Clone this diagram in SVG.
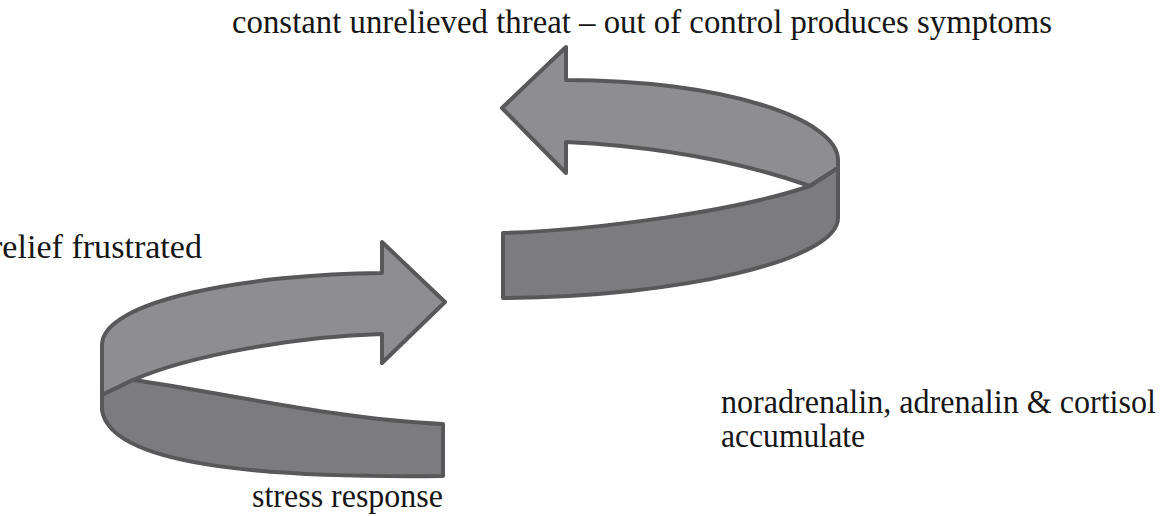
<svg xmlns="http://www.w3.org/2000/svg" width="1166" height="516" viewBox="0 0 1166 516">
  <style>
    .label { font-family: "Liberation Serif", "Times New Roman", serif; font-size: 34px; fill: #161616; }
    .band { stroke: #58585a; stroke-width: 4; stroke-linejoin: round; stroke-linecap: round; }
    .inner { fill: #8e8e90; }
    .outer { fill: #7c7c7e; }
  </style>
  <rect width="1166" height="516" fill="#ffffff"/>

  <!-- curved ribbon arrows -->
  <g id="connectors">
    <!-- lower-left ribbon, pointing right -->
    <g id="arrow-lower">
      <path class="band inner" d="M 102,345 C 102,300 250,274 382,273 L 382,242 L 445,302 L 382,363 L 382,334 C 300,336 190,355 133,380 L 102,395 Z"/>
      <path class="band outer" d="M 102,395 L 133,380 C 220,392 340,420 443,424 L 443,476 C 260,478 110,465 102,410 Z"/>
    </g>
    <!-- upper-right ribbon, pointing left -->
    <g id="arrow-upper">
      <path class="band inner" d="M 566,80 C 720,80 838,118 838,160 L 838,168 L 810,186 C 770,172 690,148 566,142 L 566,173 L 502,108 L 566,47 Z"/>
      <path class="band outer" d="M 810,186 L 838,168 L 838,218 C 838,260 680,297 503,298 L 503,233 C 600,230 740,210 810,186 Z"/>
    </g>
  </g>

  <g id="node-threat">
    <text class="label" x="232" y="33" textLength="820" lengthAdjust="spacingAndGlyphs">constant unrelieved threat – out of control produces symptoms</text>
  </g>
  <g id="node-relief">
    <text class="label" x="-9" y="258" textLength="211" lengthAdjust="spacingAndGlyphs">relief frustrated</text>
  </g>
  <g id="node-hormones">
    <text class="label" x="721" y="413" textLength="435" lengthAdjust="spacingAndGlyphs">noradrenalin, adrenalin &amp; cortisol</text>
    <text class="label" x="721" y="447" textLength="144" lengthAdjust="spacingAndGlyphs">accumulate</text>
  </g>
  <g id="node-stress">
    <text class="label" x="252" y="507" textLength="191" lengthAdjust="spacingAndGlyphs">stress response</text>
  </g>
</svg>
